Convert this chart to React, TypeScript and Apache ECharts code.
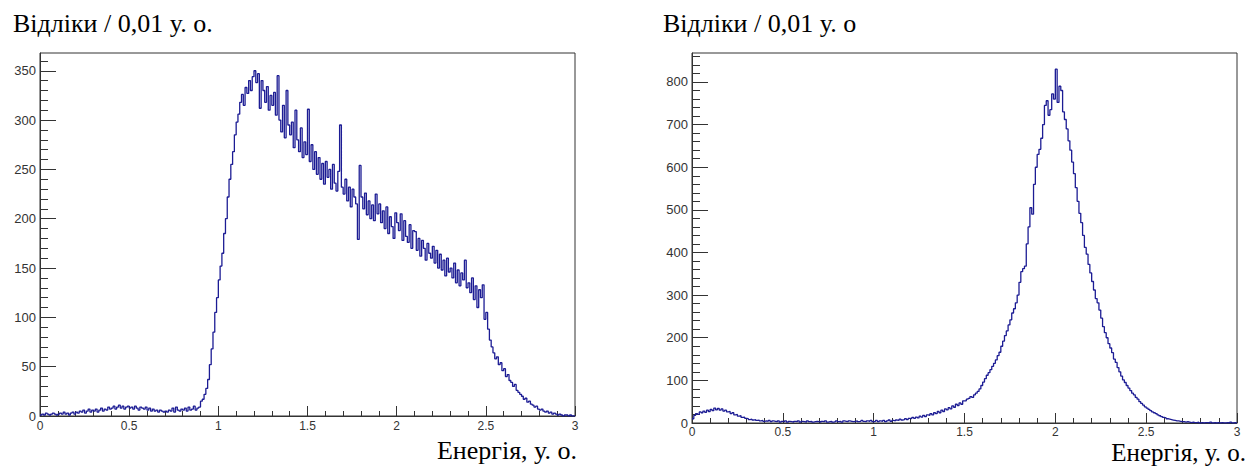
import React, { useEffect, useRef } from "react";
import * as echarts from "echarts";

// Histogram bin width (у. о.)
const binWidth = 0.01;

// Left histogram: counts per 0.01 bin, 0.00 .. 2.99
const leftCounts = [
  1, 2, 1, 3, 2, 1, 2, 3, 2, 1,
  2, 3, 2, 4, 2, 3, 1, 3, 4, 2,
  4, 3, 5, 4, 6, 3, 5, 7, 4, 6,
  5, 7, 4, 6, 8, 5, 7, 6, 9, 7,
  8, 10, 7, 9, 11, 8, 10, 7, 9, 10,
  8, 9, 7, 10, 8, 6, 9, 8, 7, 9,
  6, 8, 5, 7, 5, 6, 4, 6, 5, 4,
  5, 4, 6, 5, 8, 4, 9, 6, 5, 7,
  6, 8, 5, 9, 6, 7, 10, 6, 8, 9,
  15, 17, 22, 28, 37, 52, 68, 85, 105, 120,
  138, 152, 165, 185, 200, 222, 240, 255, 268, 285,
  298, 306, 318, 326, 315, 333, 327, 340, 330, 344,
  350, 338, 347, 312, 340, 330, 318, 334, 310, 325,
  315, 328, 305, 345, 300, 288, 315, 282, 330, 295,
  285, 298, 272, 310, 280, 268, 292, 262, 278, 265,
  311, 258, 275, 250, 268, 245, 262, 240, 256, 235,
  258, 242, 250, 230, 255, 236, 228, 248, 295, 232,
  225, 240, 218, 232, 212, 230, 222, 215, 179, 254,
  222, 210, 226, 204, 218, 200, 214, 198, 225, 205,
  215, 196, 208, 190, 212, 185, 202, 192, 180, 206,
  196, 188, 205, 178, 198, 182, 176, 194, 170, 188,
  187, 168, 180, 162, 178, 170, 158, 175, 165, 160,
  172, 155, 168, 150, 164, 148, 158, 142, 160, 146,
  150, 140, 155, 135, 148, 132, 145, 138, 158, 130,
  135, 125, 140, 118, 132, 110, 128, 120, 133, 98,
  105, 88, 77, 70, 64, 58, 60, 52, 54, 46,
  48, 40, 42, 36, 34, 30, 32, 26, 24, 22,
  20, 17, 18, 14, 15, 12, 11, 9, 10, 7,
  6, 7, 5, 4, 5, 3, 4, 2, 3, 2,
  1, 2, 1, 0, 1, 1, 0, 1, 0, 0,
];

// Right histogram: counts per 0.01 bin, 0.00 .. 2.99
const rightCounts = [
  10, 18, 22, 20, 26, 24, 28, 25, 30, 27,
  32, 29, 35, 31, 34, 30, 33, 28, 30, 26,
  27, 22, 24, 19, 20, 16, 17, 13, 14, 11,
  10, 8, 9, 7, 8, 6, 7, 5, 6, 4,
  5, 4, 6, 3, 5, 4, 3, 5, 2, 4,
  3, 5, 2, 4, 3, 2, 4, 3, 5, 2,
  4, 3, 2, 5, 3, 4, 2, 3, 4, 3,
  2, 4, 3, 5, 2, 3, 4, 2, 3, 5,
  3, 4, 2, 5, 4, 3, 5, 4, 3, 4,
  5, 3, 4, 6, 4, 3, 5, 4, 6, 3,
  4, 6, 3, 5, 4, 6, 3, 5, 7, 4,
  6, 5, 7, 6, 9, 7, 8, 10, 8, 11,
  10, 13, 11, 14, 12, 16, 14, 18, 15, 19,
  18, 22, 19, 24, 22, 27, 24, 30, 27, 33,
  31, 36, 33, 40, 37, 44, 41, 47, 44, 52,
  52, 56, 58, 62, 60, 66, 70, 74, 80, 88,
  96, 104, 112, 118, 125, 133, 140, 148, 158, 166,
  180, 192, 205, 216, 230, 242, 258, 268, 282, 300,
  330, 355, 362, 368, 420, 460, 505, 490, 560, 600,
  630, 642, 668, 700, 745, 756, 722, 735, 772, 760,
  830, 752, 790, 780, 730, 712, 690, 662, 640, 612,
  585, 552, 520, 492, 470, 440, 412, 396, 372, 352,
  332, 312, 292, 282, 265, 246, 226, 212, 200, 186,
  176, 165, 150, 142, 130, 120, 110, 101, 95, 88,
  82, 76, 70, 66, 60, 56, 50, 46, 42, 38,
  35, 32, 29, 26, 24, 22, 19, 17, 15, 13,
  12, 10, 9, 8, 7, 6, 5, 5, 4, 3,
  3, 2, 3, 2, 1, 2, 1, 1, 2, 0,
  1, 0, 1, 1, 0, 2, 0, 1, 0, 1,
  0, 1, 0, 0, 1, 0, 2, 0, 1, 0,
];

// Axis ranges and tick labels
const xMin = 0;
const xMax = 3;
const xTickStep = 0.5;
const leftYMax = 368;
const rightYMax = 868;
const leftYTicks = [0, 50, 100, 150, 200, 250, 300, 350];
const leftYMinorTicks = [
  10, 20, 30, 40, 60, 70, 80, 90, 110, 120, 130, 140, 160, 170, 180, 190,
  210, 220, 230, 240, 260, 270, 280, 290, 310, 320, 330, 340, 360,
];
const rightYTicks = [0, 100, 200, 300, 400, 500, 600, 700, 800];
const rightYMinorTicks = [
  20, 40, 60, 80, 120, 140, 160, 180, 220, 240, 260, 280, 320, 340, 360, 380,
  420, 440, 460, 480, 520, 540, 560, 580, 620, 640, 660, 680, 720, 740, 760,
  780, 820, 840, 860,
];

// Texts
const leftYTitle = "Відліки / 0,01 у. о.";
const rightYTitle = "Відліки / 0,01 у. о";
const xTitle = "Енергія, у. о.";

const lineColor = "#1c1c94";
const axisColor = "#333333";

function toPoints(counts: number[]): [number, number][] {
  const pts: [number, number][] = counts.map((c, i) => [
    Math.round(i * binWidth * 100) / 100,
    c,
  ]);
  pts.push([Math.round(counts.length * binWidth * 100) / 100, counts[counts.length - 1]]);
  return pts;
}

function xAxisFor(gridIndex: number, labelMargin: number) {
  return {
    gridIndex,
    type: "value",
    min: xMin,
    max: xMax,
    interval: xTickStep,
    axisLine: { show: true, lineStyle: { color: axisColor, width: 1 } },
    axisTick: { show: true, inside: true, length: 10, lineStyle: { color: axisColor } },
    minorTick: { show: true, splitNumber: 5, length: 5, lineStyle: { color: axisColor } },
    axisLabel: {
      margin: labelMargin,
      fontSize: 12,
      color: axisColor,
      fontFamily: "Liberation Sans",
    },
    splitLine: { show: false },
    minorSplitLine: { show: false },
  };
}

function yMajorAxis(gridIndex: number, max: number, ticks: number[]) {
  return {
    gridIndex,
    type: "value",
    position: "left",
    min: 0,
    max,
    axisLine: { show: true, lineStyle: { color: axisColor, width: 1 } },
    axisTick: {
      show: true,
      inside: true,
      length: 16,
      customValues: ticks,
      lineStyle: { color: axisColor },
    },
    axisLabel: {
      customValues: ticks,
      margin: 4,
      fontSize: 13,
      color: axisColor,
      fontFamily: "Liberation Sans",
    },
    splitLine: { show: false },
  };
}

function yMinorAxis(gridIndex: number, max: number, ticks: number[]) {
  return {
    gridIndex,
    type: "value",
    position: "left",
    min: 0,
    max,
    axisLine: { show: false },
    axisTick: {
      show: true,
      inside: true,
      length: 8,
      customValues: ticks,
      lineStyle: { color: axisColor },
    },
    axisLabel: { show: false },
    splitLine: { show: false },
  };
}

function titleText(text: string, x: number, y: number, align: string, size: number) {
  return {
    type: "text",
    x,
    y,
    style: {
      text,
      fontSize: size,
      fontFamily: "Liberation Serif",
      fill: "#000000",
      align,
      verticalAlign: "middle",
    },
  };
}

export default function App() {
  const ref = useRef<HTMLDivElement>(null);

  useEffect(() => {
    if (!ref.current) return;
    const chart = echarts.init(ref.current, undefined, { renderer: "svg" });
    chart.setOption({
      animation: false,
      backgroundColor: "#ffffff",
      grid: [
        {
          left: 40,
          top: 53,
          width: 535,
          height: 363,
          show: true,
          borderColor: axisColor,
          borderWidth: 1,
          backgroundColor: "transparent",
        },
        {
          left: 692,
          top: 53,
          width: 545,
          height: 370,
          show: true,
          borderColor: axisColor,
          borderWidth: 1,
          backgroundColor: "transparent",
        },
      ],
      xAxis: [xAxisFor(0, 4), xAxisFor(1, 3)],
      yAxis: [
        yMajorAxis(0, leftYMax, leftYTicks),
        yMinorAxis(0, leftYMax, leftYMinorTicks),
        yMajorAxis(1, rightYMax, rightYTicks),
        yMinorAxis(1, rightYMax, rightYMinorTicks),
      ],
      series: [
        {
          type: "line",
          xAxisIndex: 0,
          yAxisIndex: 0,
          step: "end",
          symbol: "none",
          data: toPoints(leftCounts),
          lineStyle: { color: lineColor, width: 1.3 },
        },
        {
          type: "line",
          xAxisIndex: 1,
          yAxisIndex: 2,
          step: "end",
          symbol: "none",
          data: toPoints(rightCounts),
          lineStyle: { color: lineColor, width: 1.3 },
        },
      ],
      graphic: [
        titleText(leftYTitle, 13, 23, "left", 26),
        titleText(rightYTitle, 663, 23, "left", 26),
        titleText(xTitle, 577, 450, "right", 26),
        titleText(xTitle, 1246, 452, "right", 25),
      ],
    });
    return () => chart.dispose();
  }, []);

  return (
    <div
      ref={ref}
      style={{ position: "absolute", left: 0, top: 0, width: 1249, height: 466 }}
    />
  );
}
